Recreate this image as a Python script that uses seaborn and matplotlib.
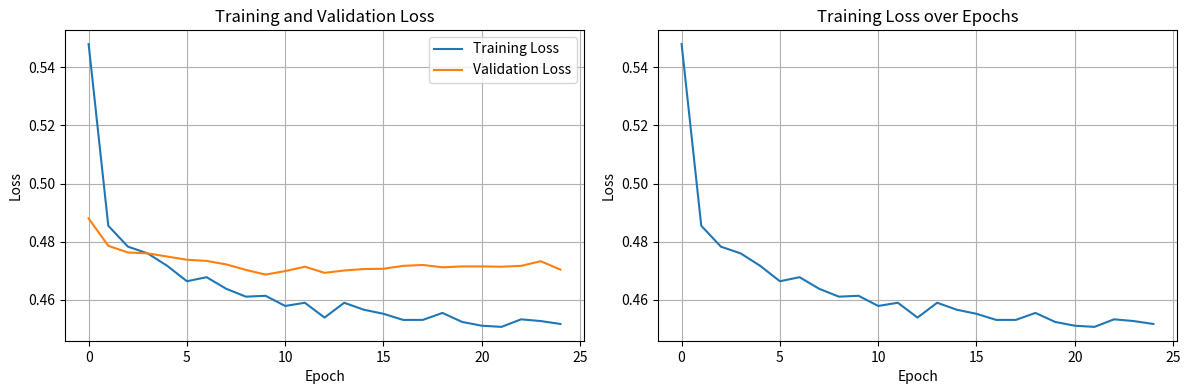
import matplotlib
matplotlib.use("Agg")
import matplotlib.pyplot as plt
import seaborn as sns
import pandas as pd

plt.rcParams['font.family'] = ['Noto Sans CJK SC', 'DejaVu Sans']
plt.rcParams['axes.unicode_minus'] = False

epochs = list(range(25))
train_loss = [0.548, 0.4855, 0.4783, 0.4760, 0.4717, 0.4664, 0.4678, 0.4638, 0.4611, 0.4614,
              0.4579, 0.4590, 0.4539, 0.4590, 0.4566, 0.4552, 0.4531, 0.4531, 0.4555, 0.4524,
              0.4511, 0.4507, 0.4533, 0.4527, 0.4517]
val_loss = [0.4880, 0.4786, 0.4763, 0.4760, 0.4749, 0.4738, 0.4734, 0.4722, 0.4703, 0.4687,
            0.4699, 0.4714, 0.4693, 0.4701, 0.4706, 0.4707, 0.4717, 0.4720, 0.4712, 0.4715,
            0.4715, 0.4714, 0.4717, 0.4733, 0.4704]

df = pd.DataFrame({"epoch": epochs, "train": train_loss, "val": val_loss})

fig, axes = plt.subplots(1, 2, figsize=(11.89, 3.9), dpi=100)

ax = axes[0]
sns.lineplot(data=df, x="epoch", y="train", ax=ax, label="Training Loss", color="#1f77b4")
sns.lineplot(data=df, x="epoch", y="val", ax=ax, label="Validation Loss", color="#ff7f0e")
ax.set_title("Training and Validation Loss")
ax.set_xlabel("Epoch")
ax.set_ylabel("Loss")
ax.legend(loc="upper right")
ax.grid(True)

ax = axes[1]
sns.lineplot(data=df, x="epoch", y="train", ax=ax, color="#1f77b4")
ax.set_title("Training Loss over Epochs")
ax.set_xlabel("Epoch")
ax.set_ylabel("Loss")
ax.grid(True)

fig.subplots_adjust(left=0.0547, right=0.9899, top=0.9231, bottom=0.1256, wspace=0.1426)
plt.savefig("out.png", dpi=100)
